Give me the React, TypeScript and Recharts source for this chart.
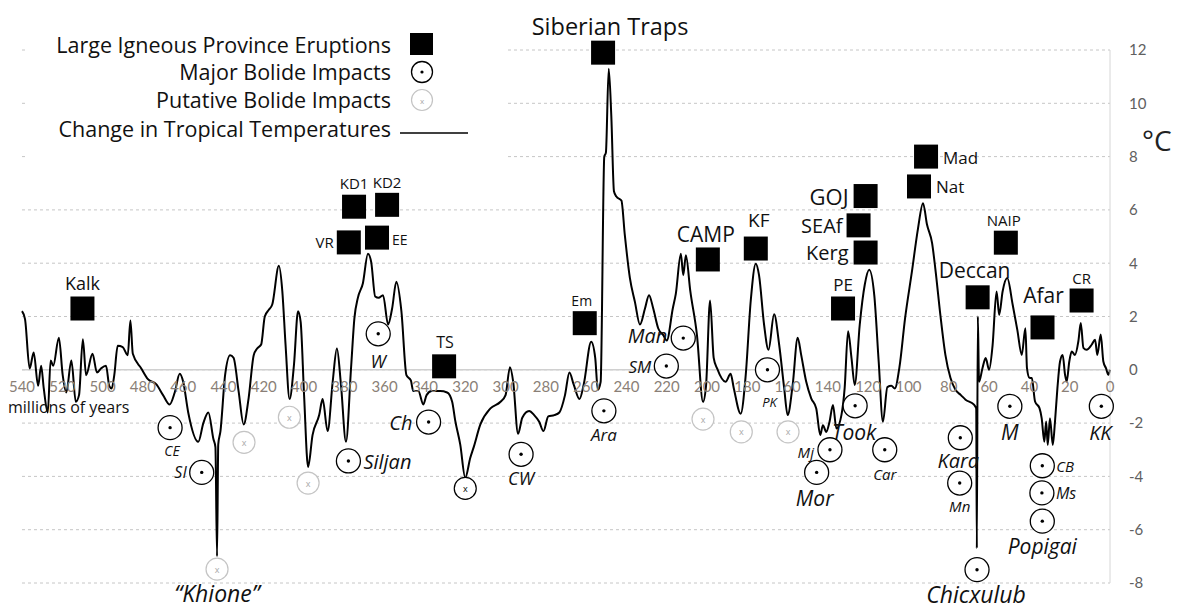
import React from "react";
import {
  ComposedChart, Line, Scatter, XAxis, YAxis, CartesianGrid, ReferenceLine, ReferenceDot,
} from "recharts";

const FONT = "'Open Sans', 'Noto Sans', sans-serif";
const TICK_FONT = "Lato, 'Open Sans', sans-serif";

// change in tropical temperature, millions of years ago -> °C
const lineAges = [
  540, 538.5, 536.2, 534.2, 532, 530.5, 529.2, 527.2, 525.8, 524.5, 521.7, 519.8, 518, 515.5, 513.3, 511.7,
  509.8, 508.2, 505, 502.8, 500.8, 498.3, 496.7, 495.5, 494.2, 492.5, 490, 487.5, 486.2, 485, 480.8, 477.5,
  473.3, 470, 466.7, 464.2, 461.7, 460, 457.5, 452.5, 450, 447.5, 445, 444, 443.2, 442.6, 441.5, 439.2,
  436.7, 435, 432.5, 430, 427.5, 425, 423.3, 421.3, 419.5, 417.5, 415.8, 412.5, 410.8, 409.2, 407.2, 405,
  403, 401.7, 400, 398, 395.8, 392.5, 390.8, 388.3, 385.8, 383.7, 381.7, 379.2, 376.7, 375, 373.3, 370.8,
  368.3, 366.7, 364.7, 363, 360.8, 358.3, 356.3, 354.2, 351.7, 349.2, 347, 345.8, 343.3, 340.8, 339.2, 336.7,
  332.5, 329, 326.5, 325, 322.5, 320, 317.5, 315.8, 312.5, 307.5, 302.5, 300, 297.8, 296.2, 293.8, 291.7,
  288.3, 285.8, 283.3, 281.2, 278.8, 275.8, 273.3, 270.5, 268.3, 266.2, 263.3, 261.2, 257.5, 255.5, 254.2, 252.8,
  251, 250.2, 248.8, 247.5, 246.2, 245, 242.5, 240.8, 238.3, 235.8, 233.3, 230.8, 228.8, 226.7, 224.2, 221.7,
  220, 217, 215.5, 213, 211.8, 210.5, 208.3, 205, 202, 200.5, 198.5, 196.7, 195, 190.8, 188.3, 186.7,
  183.3, 180.8, 178.3, 175.8, 174.2, 171.7, 169.5, 166.7, 164.2, 161.7, 160, 157.5, 155, 153.3, 150.8, 148.3,
  145.8, 143.8, 142.5, 140.8, 139.2, 137.5, 135.8, 133.3, 131.7, 130, 128.3, 126.7, 124.2, 121.7, 119.5, 117,
  114.8, 112.7, 110.5, 108.5, 106.8, 104.5, 101.7, 98.3, 95.3, 92.8, 90.8, 88.3, 86.7, 84.2, 81.7, 79.2,
  76.7, 74, 71.7, 67.5, 66.4, 66.1, 65.6, 65, 63.3, 61.7, 60, 58.3, 56.3, 55, 53.3, 51,
  48.3, 46, 43.8, 42, 41.2, 40, 38.8, 37.2, 35, 33.9, 32.6, 31.7, 30.9, 29.8, 28.4, 27.3,
  26.1, 24.8, 23.5, 22.3, 21.5, 20.2, 19, 17.4, 15.7, 14.5, 13.2, 11.6, 9.1, 7.4, 6.3, 4.6,
  3.3, 2, 0.8, 0,
];
const lineTemps = [
  2.2, 1.9, 0.05, 0.65, -0.6, 0.15, -0.7, -1.6, 0.35, 0.15, 1.2, -0.2, -0.85, 0.35, -1.2, -0.95,
  1.15, -0.2, 0.6, -0.1, 0.05, 0.15, -0.6, -0.7, -0.2, 0.9, 0.85, 0.55, 1.85, 0.6, 0.05, -0.35,
  -0.55, -0.95, -1.3, -0.85, -0.15, -0.45, -1.6, -2.7, -2.0, -1.6, -2.6, -2.9, -7.0, -2.8, -2.3, -0.2,
  0.55, 0.45, -0.8, -2.05, -1.05, 0.55, 0.8, 0.95, 2.0, 2.25, 2.45, 3.9, 2.95, 0.95, -1.1, 0.2,
  2.2, 1.8, -0.95, -3.65, -2.45, -1.7, -1.1, -2.3, -0.45, 0.8, -0.55, -2.7, 0.05, 1.95, 2.7, 3.25,
  4.35, 4.05, 2.75, 2.7, 2.8, 1.7, 2.3, 3.3, 2.2, -0.2, -0.4, -0.8, -0.8, -1.3, -0.95, -0.8,
  -0.8, -0.85, -1.2, -1.9, -2.8, -4.05, -3.3, -2.9, -2.05, -1.45, -1.2, -0.95, 0.1, -0.45, -2.4, -1.8,
  -1.55, -1.7, -1.95, -2.3, -1.75, -1.7, -1.6, -0.95, -0.1, -0.55, -1.1, -0.55, 1.05, 0.45, -0.75, -0.45,
  8.0, 8.15, 11.3, 9.5, 6.7, 6.5, 6.35, 5.05, 3.45, 2.55, 1.7, 2.3, 2.8, 2.3, 1.55, 1.3,
  1.1, 2.3, 2.85, 4.35, 3.55, 4.3, 2.95, 1.3, -1.2, -0.6, 2.6, 0.45, 0.05, -0.45, -0.15, -0.7,
  -1.65, -0.2, 2.6, 3.98, 3.55, 1.7, 0.75, 2.08, 0.94, -0.7, -1.7, -0.57, 1.2, 0.57, -0.44, -1.07,
  -1.45, -2.45, -2.08, -2.33, -1.95, -1.32, -2.2, -1.7, -0.69, 1.45, 0.44, -0.57, 1.7, 3.2, 3.75, 2.8,
  0.3, -1.95, -0.65, -0.6, -0.7, 0.1, 1.94, 3.69, 5.3, 6.25, 5.44, 4.75, 3.8, 2.06, 0.56, -0.3,
  -0.75, -0.95, -1.12, -1.31, -1.45, -6.7, 2.0, -0.45, 0.06, 0.44, 0.0, 0.9, 2.94, 2.06, 2.94, 3.44,
  2.44, 1.5, 0.56, 1.56, 0.06, -0.3, -0.31, -1.19, -1.44, -1.82, -2.7, -1.94, -2.82, -1.82, -2.82, -1.94,
  -0.69, 0.31, 0.56, -0.19, -0.44, 0.31, 0.69, 0.56, 1.07, 1.76, 0.82, 0.75, 0.94, 1.13, 0.56, 1.32,
  0.31, 0.06, -0.19, 0,
];

// large igneous province eruptions
const lipNames = ["Kalk", "VR", "KD1", "KD2", "EE", "TS", "Em", "Siberian Traps", "CAMP", "KF",
  "PE", "Kerg", "SEAf", "GOJ", "Nat", "Mad", "Deccan", "NAIP", "Afar", "CR"];
const lipAges = [510, 377.8, 375.2, 358.8, 363.8, 330.5, 260.7, 251.6, 199.6, 175.8,
  132.5, 121.3, 124.8, 121.3, 94.8, 91.3, 65.7, 51.7, 33.5, 14.1];
const lipTemps = [2.3, 4.78, 6.12, 6.19, 4.96, 0.13, 1.75, 11.9, 4.14, 4.55,
  2.3, 4.4, 5.42, 6.52, 6.88, 8.0, 2.72, 4.77, 1.59, 2.6];

// major bolide impacts
const impactNames = ["CE", "SI", "Siljan", "W", "Ch", "CW", "Ara", "SM", "Man", "PK", "Mj", "Mor",
  "Took", "Car", "Kara", "Mn", "Chicxulub", "M", "CB", "Ms", "Popigai", "KK"];
const impactAges = [466.5, 450.8, 378, 363.2, 338.2, 292.3, 251.2, 220.2, 211.8, 170, 139, 145.6,
  126.5, 111.8, 74.3, 74.6, 66, 49.7, 33.6, 33.8, 33.6, 4.3];
const impactTemps = [-2.17, -3.85, -3.42, 1.35, -1.96, -3.17, -1.54, 0.14, 1.19, 0, -3.0, -3.85,
  -1.35, -3.0, -2.55, -4.25, -7.5, -1.37, -3.6, -4.62, -5.68, -1.37];

// putative bolide impacts
const putativeNames = ["Khione", "p430", "p407", "p398", "p202", "p183", "p160"];
const putativeAges = [443.2, 429.8, 407.3, 398, 202, 183, 159.8];
const putativeTemps = [-7.48, -2.72, -1.78, -4.25, -1.85, -2.33, -2.33];

// impact marked with a black cross
const crossAges = [320];
const crossTemps = [-4.45];

const xTicks = [540, 520, 500, 480, 460, 440, 420, 400, 380, 360, 340, 320, 300, 280, 260, 240,
  220, 200, 180, 160, 140, 120, 100, 80, 60, 40, 20, 0];
const yTicks = [-8, -6, -4, -2, 0, 2, 4, 6, 8, 10, 12];

const tempData = lineAges.map((age, i) => ({ age, temp: lineTemps[i] }));
const lipData = lipNames.map((name, i) => ({ name, age: lipAges[i], temp: lipTemps[i] }));
const impactData = impactNames.map((name, i) => ({ name, age: impactAges[i], temp: impactTemps[i] }));
const putativeData = putativeNames.map((name, i) => ({ name, age: putativeAges[i], temp: putativeTemps[i] }));
const crossData = crossAges.map((age, i) => ({ name: "x", age, temp: crossTemps[i] }));

// label offsets from the marker centre: dx, dy, anchor, font size
const labelPos: Record<string, [number, number, string, number]> = {
  Kalk: [0, -26, "middle", 18],
  VR: [-15, 0, "end", 15],
  KD1: [0, -24, "middle", 15],
  KD2: [0, -23, "middle", 15],
  EE: [15, 2, "start", 14],
  TS: [1, -24, "middle", 16],
  Em: [-3, -23, "middle", 14],
  "Siberian Traps": [7, -27, "middle", 23.5],
  CAMP: [-2, -25, "middle", 21],
  KF: [3, -29, "middle", 19],
  PE: [0, -24, "middle", 17],
  GOJ: [-17, 0, "end", 22],
  SEAf: [-16, 0, "end", 20],
  Kerg: [-17, 0, "end", 20],
  Mad: [17, 1, "start", 17],
  Nat: [17, 0, "start", 17],
  Deccan: [-3, -27, "middle", 21],
  NAIP: [-2, -23, "middle", 15],
  Afar: [1, -32, "middle", 21],
  CR: [0, -23, "middle", 15],
  CE: [2, 23, "middle", 14],
  SI: [-15, 0, "end", 16],
  Siljan: [15, 1, "start", 20],
  W: [0, 27, "middle", 18],
  Ch: [-16, 0, "end", 20],
  CW: [0, 24, "middle", 18],
  Ara: [0, 24, "middle", 17],
  SM: [-15, 0, "end", 17],
  Man: [-16, -3, "end", 20],
  PK: [2, 32, "middle", 13],
  Mj: [-16, 2, "end", 15],
  Mor: [-2, 26, "middle", 21],
  Took: [-1, 26, "middle", 21],
  Car: [0, 24, "middle", 15],
  Kara: [-2, 23, "middle", 20],
  Mn: [0, 23, "middle", 15],
  Chicxulub: [-1, 24, "middle", 23],
  M: [0, 26, "middle", 21],
  CB: [14, 0, "start", 15],
  Ms: [14, 0, "start", 16],
  Popigai: [0, 25, "middle", 21],
  KK: [-1, 26, "middle", 20],
  Khione: [0, 24, "middle", 23],
};

function MarkLabel({ cx, cy, name, italic }: any) {
  const pos = labelPos[name];
  if (!pos) return null;
  const [dx, dy, anchor, fs] = pos;
  const text = name === "Khione" ? "\u201CKhione\u201D" : name;
  return (
    <text x={cx + dx} y={cy + dy} textAnchor={anchor} dominantBaseline="central"
      fontSize={fs} fontFamily={FONT} fontStyle={italic ? "italic" : "normal"} fill="#111">
      {text}
    </text>
  );
}

function LipMark(props: any) {
  const { cx, cy, payload } = props;
  return (
    <g>
      <rect x={cx - 12} y={cy - 12} width={24} height={24} fill="#000" />
      <MarkLabel cx={cx} cy={cy} name={payload.name} />
    </g>
  );
}

function ImpactMark(props: any) {
  const { cx, cy, payload } = props;
  return (
    <g>
      <circle cx={cx} cy={cy} r={12} fill="#fff" stroke="#000" strokeWidth={1.3} />
      <circle cx={cx} cy={cy} r={1.7} fill="#000" />
      <MarkLabel cx={cx} cy={cy} name={payload.name} italic />
    </g>
  );
}

function PutativeMark(props: any) {
  const { cx, cy, payload } = props;
  return (
    <g>
      <circle cx={cx} cy={cy} r={11} fill="#fff" stroke="#c4c4c4" strokeWidth={1.2} />
      <text x={cx} y={cy} textAnchor="middle" dominantBaseline="central" fontSize={9}
        fontFamily={FONT} fill="#a8a8a8">x</text>
      <MarkLabel cx={cx} cy={cy} name={payload.name} italic />
    </g>
  );
}

function CrossMark(props: any) {
  const { cx, cy } = props;
  return (
    <g>
      <circle cx={cx} cy={cy} r={11} fill="#fff" stroke="#000" strokeWidth={1.2} />
      <text x={cx} y={cy} textAnchor="middle" dominantBaseline="central" fontSize={9}
        fontFamily={FONT} fill="#000">x</text>
    </g>
  );
}

function XTickLabel(props: any) {
  const { cx, cy, value } = props;
  return (
    <text x={cx} y={cy + 16} textAnchor="middle" dominantBaseline="central" fontSize={15}
      fontFamily={TICK_FONT} fill="#8a7f77">{value}</text>
  );
}

function LegendBox() {
  const rows = [
    "Large Igneous Province Eruptions",
    "Major Bolide Impacts",
    "Putative Bolide Impacts",
    "Change in Tropical Temperatures",
  ];
  const ys = [44, 71, 99, 128];
  return (
    <svg width={480} height={175} style={{ position: "absolute", left: 25, top: 0, background: "#fff" }}>
      {rows.map((r, i) => (
        <text key={r} x={366} y={ys[i]} textAnchor="end" dominantBaseline="central"
          fontSize={21.5} fontFamily={FONT} fill="#111">{r}</text>
      ))}
      <rect x={385} y={33} width={23} height={22} fill="#000" />
      <circle cx={397} cy={72} r={10.5} fill="#fff" stroke="#000" strokeWidth={1.3} />
      <circle cx={397} cy={72} r={1.6} fill="#000" />
      <circle cx={397} cy={100} r={10.5} fill="#fff" stroke="#c4c4c4" strokeWidth={1.2} />
      <text x={397} y={100} textAnchor="middle" dominantBaseline="central" fontSize={8}
        fontFamily={FONT} fill="#a8a8a8">x</text>
      <line x1={375} x2={443} y1={133} y2={133} stroke="#000" strokeWidth={1.6} />
    </svg>
  );
}

export default function App() {
  return (
    <div style={{ position: "absolute", left: 0, top: 0, width: 1177, height: 611, background: "#fff" }}>
      <ComposedChart width={1177} height={611} data={tempData}
        margin={{ top: 50, right: 0, bottom: 28, left: 22 }}>
        <CartesianGrid horizontal vertical={false} strokeDasharray="3 3" stroke="#c6c6c6" />
        <XAxis type="number" dataKey="age" domain={[0, 540]} reversed hide />
        <YAxis type="number" dataKey="temp" orientation="right" domain={[-8, 12]} ticks={yTicks}
          width={67} axisLine={{ stroke: "#d6d6d6" }} tickLine={false} tickSize={0} tickMargin={19}
          interval={0}
          tick={{ fill: "#606060", fontSize: 15, fontFamily: TICK_FONT, textAnchor: "start" }} />
        <ReferenceLine y={0} stroke="#d0d0d0" strokeWidth={1.5} />
        {xTicks.map((t) => (
          <ReferenceDot key={t} x={t} y={0} r={0}
            shape={(p: any) => <XTickLabel {...p} value={t} />} />
        ))}
        <Scatter data={putativeData} dataKey="temp" isAnimationActive={false}
          shape={(p: any) => <PutativeMark {...p} />} />
        <Scatter data={crossData} dataKey="temp" isAnimationActive={false}
          shape={(p: any) => <CrossMark {...p} />} />
        <Scatter data={impactData} dataKey="temp" isAnimationActive={false}
          shape={(p: any) => <ImpactMark {...p} />} />
        <Scatter data={lipData} dataKey="temp" isAnimationActive={false}
          shape={(p: any) => <LipMark {...p} />} />
        <Line type="monotone" dataKey="temp" stroke="#000" strokeWidth={2} dot={false}
          activeDot={false} isAnimationActive={false} />
      </ComposedChart>
      <LegendBox />
      <div style={{ position: "absolute", left: 1142, top: 120, fontSize: 28, fontFamily: FONT, color: "#222", lineHeight: "40px" }}>
        °C
      </div>
      <div style={{ position: "absolute", left: 8, top: 396, fontSize: 16, fontFamily: FONT, color: "#111", lineHeight: "22px" }}>
        millions of years
      </div>
    </div>
  );
}
